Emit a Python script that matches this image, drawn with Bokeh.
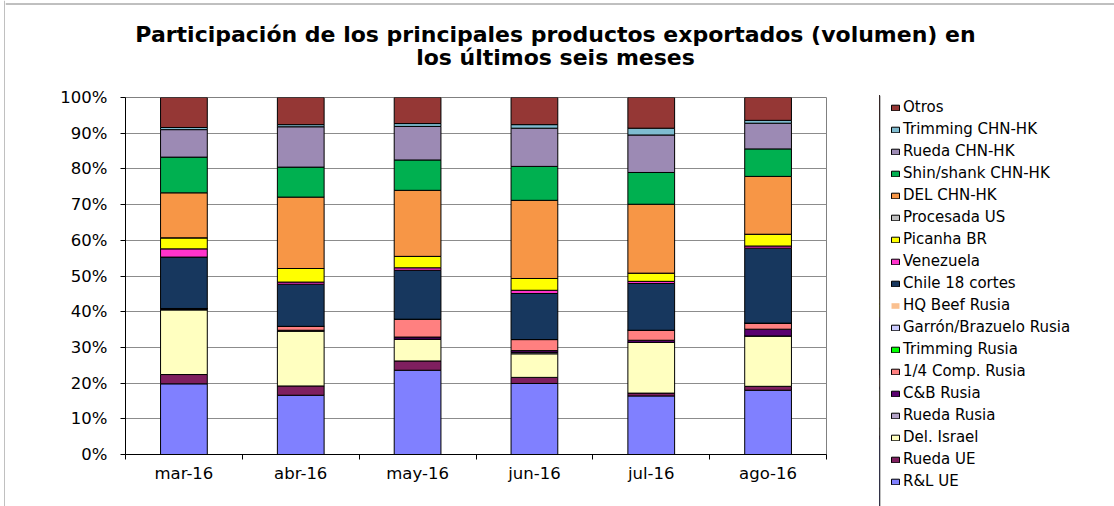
from bokeh.plotting import figure
from bokeh.models import (ColumnDataSource, Range1d, FixedTicker, PrintfTickFormatter,
                          Legend, LegendItem, Label, Span)
from bokeh.layouts import row, column
from bokeh.embed import file_html
from bokeh.resources import INLINE

months = ["mar-16", "abr-16", "may-16", "jun-16", "jul-16", "ago-16"]

series = ["R&L UE", "Rueda UE", "Del. Israel", "Rueda Rusia", "C&B Rusia",
          "1/4 Comp. Rusia", "Trimming Rusia", "Garrón/Brazuelo Rusia", "HQ Beef Rusia",
          "Chile 18 cortes", "Venezuela", "Picanha BR", "Procesada US", "DEL CHN-HK",
          "Shin/shank CHN-HK", "Rueda CHN-HK", "Trimming CHN-HK", "Otros"]

rl_ue          = [19.8, 16.6, 23.6, 19.9, 16.4, 18.0]
rueda_ue       = [2.6, 2.6, 2.6, 1.7, 0.8, 1.1]
del_israel     = [18.1, 15.4, 6.1, 6.6, 14.2, 14.1]
rueda_rusia    = [0.1, 0.0, 0.0, 0.4, 0.0, 0.0]
cb_rusia       = [0.3, 0.2, 0.6, 0.5, 0.6, 1.9]
comp_rusia     = [0.0, 1.1, 5.0, 3.1, 2.8, 1.7]
trimming_rusia = [0.0, 0.0, 0.0, 0.0, 0.0, 0.0]
garron_rusia   = [0.0, 0.0, 0.0, 0.0, 0.0, 0.0]
hq_beef_rusia  = [0.0, 0.0, 0.0, 0.0, 0.0, 0.0]
chile_18       = [14.4, 11.8, 13.7, 12.9, 13.1, 21.0]
venezuela      = [2.3, 0.6, 0.7, 0.9, 0.6, 0.6]
picanha_br     = [3.1, 3.8, 3.2, 3.3, 2.3, 3.3]
procesada_us   = [0.0, 0.0, 0.0, 0.0, 0.0, 0.0]
del_chn        = [12.6, 20.0, 18.5, 21.9, 19.3, 16.2]
shin_chn       = [10.0, 8.4, 8.5, 9.5, 8.9, 7.7]
rueda_chn      = [7.7, 11.3, 9.4, 10.7, 10.5, 7.2]
trimming_chn   = [0.6, 0.6, 0.8, 1.0, 1.9, 0.8]
otros          = [8.4, 7.6, 7.3, 7.6, 8.6, 6.4]

values = [rl_ue, rueda_ue, del_israel, rueda_rusia, cb_rusia, comp_rusia, trimming_rusia,
          garron_rusia, hq_beef_rusia, chile_18, venezuela, picanha_br, procesada_us,
          del_chn, shin_chn, rueda_chn, trimming_chn, otros]

colors = ["#8080FF", "#7F1F5F", "#FFFFC0", "#B3A2C7", "#5A0070", "#FF8080", "#00FF00",
          "#CCCCFF", "#FAC090", "#17375E", "#FF33CC", "#FFFF00", "#C0C0C0", "#F79646",
          "#00B050", "#9C8AB4", "#7FBCD0", "#953735"]
line_colors = ["black"] * 8 + [None] + ["black"] * 9

y_ticks = [0, 10, 20, 30, 40, 50, 60, 70, 80, 90, 100]

title_lines = ["Participación de los principales productos exportados (volumen) en",
               "los últimos seis meses"]

keys = ["s%d" % i for i in range(len(series))]
data = {"x": [i + 0.5 for i in range(len(months))]}
for k, v in zip(keys, values):
    data[k] = v
source = ColumnDataSource(data)

FONT = "DejaVu Sans"
FRAME_GRAY = "#808080"


def bare(fig):
    fig.axis.visible = False
    fig.grid.visible = False
    fig.outline_line_color = None
    fig.background_fill_color = "white"
    fig.border_fill_color = "white"
    fig.frame_align = False
    return fig


# thin strip carrying the chart area's left border
strip = bare(figure(width=5, height=506, output_backend="svg", toolbar_location=None,
                    x_range=Range1d(0, 5), y_range=Range1d(506, 0),
                    min_border=0))
strip.add_layout(Span(location=4.5, dimension="height", line_color=FRAME_GRAY, line_width=1))

# title area
tfig = bare(figure(width=1109, height=80, output_backend="svg", toolbar_location=None,
                   x_range=Range1d(5, 1114), y_range=Range1d(80, 0), min_border=0))
tfig.add_layout(Span(location=3.5, dimension="width", line_color=FRAME_GRAY, line_width=1))
for txt, yb in zip(title_lines, [34, 57]):
    tfig.add_layout(Label(x=555, y=yb, text=txt, text_align="center",
                          text_baseline="alphabetic", text_font=FONT,
                          text_font_size="22px", text_font_style="bold",
                          text_color="black"))

# main chart
p = figure(width=874, height=426, output_backend="svg", toolbar_location=None,
           x_range=Range1d(0, len(months)), y_range=Range1d(0, 100),
           min_border_left=120, min_border_right=53, min_border_top=17, min_border_bottom=52)
p.background_fill_color = "white"
p.border_fill_color = "white"
p.outline_line_color = FRAME_GRAY
p.frame_align = False

p.vbar_stack(keys, x="x", width=0.4, source=source,
             fill_color=colors, line_color=line_colors, line_width=1)

p.xaxis.ticker = FixedTicker(ticks=data["x"], minor_ticks=list(range(len(months) + 1)))
p.xaxis.major_label_overrides = {x: m for x, m in zip(data["x"], months)}
p.xaxis.major_tick_line_color = None
p.xaxis.major_tick_in = 0
p.xaxis.major_tick_out = 5
p.xaxis.minor_tick_in = 0
p.xaxis.minor_tick_out = 5
p.xaxis.minor_tick_line_color = "black"
p.xaxis.axis_line_color = "black"
p.xaxis.major_label_text_font = FONT
p.xaxis.major_label_text_font_size = "16.5px"
p.xaxis.major_label_text_color = "black"
p.xaxis.major_label_standoff = 4

p.yaxis.ticker = FixedTicker(ticks=y_ticks)
p.yaxis.formatter = PrintfTickFormatter(format="%d%%")
p.yaxis.major_tick_in = 0
p.yaxis.major_tick_out = 5
p.yaxis.minor_tick_line_color = None
p.yaxis.axis_line_color = "black"
p.yaxis.major_tick_line_color = "black"
p.yaxis.major_label_text_font = FONT
p.yaxis.major_label_text_font_size = "16.5px"
p.yaxis.major_label_text_color = "black"
p.yaxis.major_label_standoff = 13

p.xgrid.grid_line_color = None
p.ygrid.grid_line_color = "#8c8c8c"
p.ygrid.ticker = FixedTicker(ticks=y_ticks)

# legend panel (its own renderers lie outside its visible x range)
lfig = bare(figure(width=235, height=426, output_backend="svg", toolbar_location=None,
                   x_range=Range1d(879, 1114), y_range=Range1d(0, 100),
                   min_border_left=0, min_border_right=0, min_border_top=15,
                   min_border_bottom=0))
lrenderers = lfig.vbar_stack(keys, x="x", width=0.4, source=source,
                             fill_color=colors, line_color=line_colors, line_width=1)
lfig.add_layout(Span(location=879.5, dimension="height", line_color=FRAME_GRAY, line_width=1))

items = [LegendItem(label=s, renderers=[r]) for s, r in zip(series, lrenderers)][::-1]
legend = Legend(items=items, location=(11, 16), orientation="vertical",
                glyph_width=10, glyph_height=7, label_standoff=3, label_height=18,
                spacing=4, padding=0, margin=0,
                label_text_font=FONT, label_text_font_size="15px",
                label_text_color="black",
                border_line_color=None, background_fill_alpha=0)
lfig.add_layout(legend, "center")

layout = row(strip, column(tfig, row(p, lfig)))

open("out.html", "w").write(file_html(layout, INLINE))
